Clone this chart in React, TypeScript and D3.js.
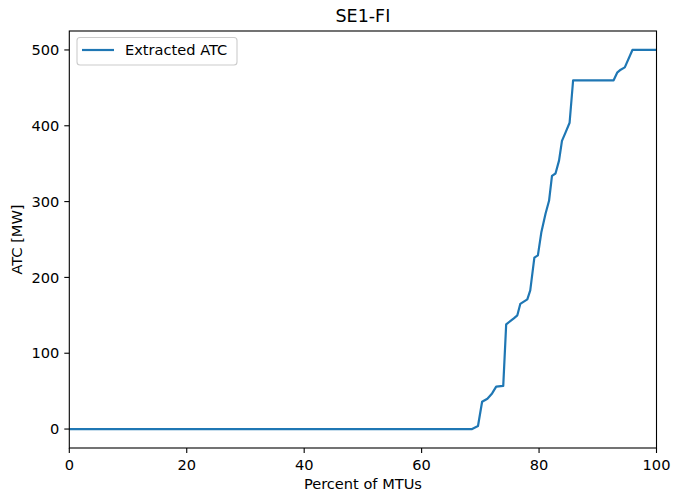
import React from "react";
import * as d3 from "d3";

const percentOfMtus = [0, 68.6, 69.6, 70.3, 71.2, 72.0, 72.7, 73.9, 74.4, 75.7, 76.3, 76.8, 78.0, 78.5, 79.2, 79.8, 80.4, 81.1, 81.7, 82.2, 82.8, 83.4, 83.9, 84.5, 85.2, 85.8, 92.7, 93.3, 93.9, 94.6, 95.9, 100];
const extractedAtc = [0, 0, 4, 36, 40, 47, 56, 57, 138, 146, 150, 165, 171, 183, 226, 229, 260, 284, 301, 334, 337, 354, 380, 391, 404, 460, 460, 470, 474, 477, 500, 500];
const xTicks = [0, 20, 40, 60, 80, 100];
const yTicks = [0, 100, 200, 300, 400, 500];
const title = "SE1-FI";
const xLabel = "Percent of MTUs";
const yLabel = "ATC [MW]";
const seriesName = "Extracted ATC";

const W = 673, H = 492;
const L = 69.3, R = 656.5, T = 31, B = 448;
const font = "DejaVu Sans, sans-serif";
const color = "#1f77b4";
const fs = 14.6;

export default function App() {
  const x = d3.scaleLinear().domain([0, 100]).range([L, R]);
  const y = d3.scaleLinear().domain([-25, 525]).range([B, T]);
  const pts: [number, number][] = percentOfMtus.map((v, i) => [v, extractedAtc[i]]);
  const line = d3.line<[number, number]>().x(d => x(d[0])).y(d => y(d[1]));
  return (
    <svg width={W} height={H} style={{ position: "fixed", left: 0, top: 0, background: "#fff" }} fontFamily={font}>
      <rect x={0} y={0} width={W} height={H} fill="#fff" />
      <text x={(L + R) / 2} y={22} textAnchor="middle" fontSize={17.5}>{title}</text>
      <clipPath id="clip"><rect x={L} y={T} width={R - L} height={B - T} /></clipPath>
      <path d={line(pts) || ""} fill="none" stroke={color} strokeWidth={2.2} strokeLinejoin="round" strokeLinecap="square" clipPath="url(#clip)" />
      <rect x={L} y={T} width={R - L} height={B - T} fill="none" stroke="#000" strokeWidth={1.1} />
      {xTicks.map(t => (
        <g key={"x" + t}>
          <line x1={x(t)} x2={x(t)} y1={B} y2={B + 5} stroke="#000" strokeWidth={1.1} />
          <text x={x(t)} y={B + 22} textAnchor="middle" fontSize={fs}>{t}</text>
        </g>
      ))}
      {yTicks.map(t => (
        <g key={"y" + t}>
          <line x1={L - 5} x2={L} y1={y(t)} y2={y(t)} stroke="#000" strokeWidth={1.1} />
          <text x={L - 10} y={y(t)} dy="0.35em" textAnchor="end" fontSize={fs}>{t}</text>
        </g>
      ))}
      <text x={(L + R) / 2} y={489} textAnchor="middle" fontSize={fs}>{xLabel}</text>
      <text transform={`translate(22,${(T + B) / 2}) rotate(-90)`} textAnchor="middle" fontSize={fs}>{yLabel}</text>
      <g>
        <rect x={77} y={37.5} width={160} height={27.5} rx={3} fill="#fff" fillOpacity={0.8} stroke="#ccc" strokeWidth={1.1} />
        <line x1={82} x2={114} y1={50} y2={50} stroke={color} strokeWidth={2.2} />
        <text x={125} y={50} dy="0.35em" fontSize={fs}>{seriesName}</text>
      </g>
    </svg>
  );
}
